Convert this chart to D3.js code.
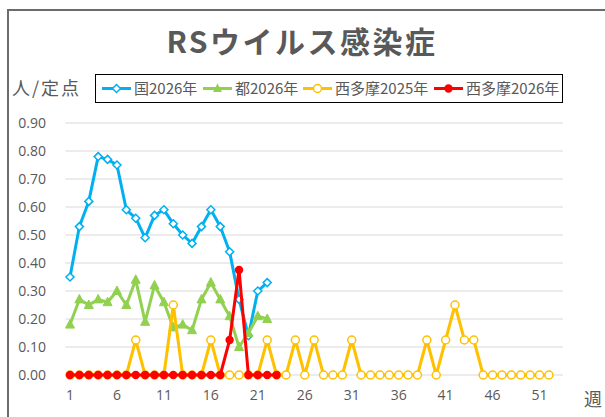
<!DOCTYPE html>
<html><head><meta charset="utf-8">
<script src="https://cdn.jsdelivr.net/npm/d3@7"></script>
<style>body{margin:0;background:#fff;} svg{display:block;} text{font-family:"Noto Sans CJK JP","Noto Sans",sans-serif;}</style>
</head><body>
<script>
const weeks = d3.range(1, 54);
const tickWeeks = [1, 6, 11, 16, 21, 26, 31, 36, 41, 46, 51];
const yTicks = [0, 0.1, 0.2, 0.3, 0.4, 0.5, 0.6, 0.7, 0.8, 0.9];
const national2026 = [0.35,0.53,0.62,0.78,0.77,0.75,0.59,0.56,0.49,0.57,0.59,0.54,0.50,0.47,0.53,0.59,0.53,0.44,0.27,0.14,0.30,0.33];
const tokyo2026 = [0.18,0.27,0.25,0.27,0.26,0.30,0.25,0.34,0.19,0.32,0.26,0.17,0.18,0.16,0.27,0.33,0.27,0.21,0.10,0.15,0.21,0.20];
const nishitama2025 = [0,0,0,0,0,0,0,0.125,0,0,0,0.25,0,0,0,0.125,0,0,0,0,0,0.125,0,0,0.125,0,0.125,0,0,0,0.125,0,0,0,0,0,0,0,0.125,0,0.125,0.25,0.125,0.125,0,0,0,0,0,0,0,0];
const nishitama2026 = [0,0,0,0,0,0,0,0,0,0,0,0,0,0,0,0,0,0.125,0.375,0,0,0,0];
const seriesNames = ["国2026年","都2026年","西多摩2025年","西多摩2026年"];
const colors = ["#00B0F0","#92D050","#FFC000","#FF0000"];

const W = 605, H = 417;
const svg = d3.select("body").append("svg").attr("width", W).attr("height", H);

// outer border
svg.append("rect").attr("x", 8).attr("y", 10).attr("width", 620).attr("height", 420)
  .attr("fill", "none").attr("stroke", "#6b6b6b").attr("stroke-width", 2);

const x = d3.scaleBand().domain(weeks).range([65.3, 563]);
const xc = w => x(w) + x.bandwidth() / 2;
const y = d3.scaleLinear().domain([0, 0.9]).range([375, 123]);

// gridlines
svg.append("g").selectAll("line").data(yTicks).join("line")
  .attr("x1", 65.3).attr("x2", 563).attr("y1", d => y(d)).attr("y2", d => y(d))
  .attr("stroke", "#d9d9d9").attr("stroke-width", 1);

// y axis
const yAxis = svg.append("g").attr("transform", "translate(60,0)")
  .call(d3.axisLeft(y).tickValues(yTicks).tickFormat(d3.format(".2f")).tickSize(0).tickPadding(0));
yAxis.select(".domain").remove();
yAxis.selectAll("text").attr("font-size", 14).attr("fill", "#595959").attr("x", -14)
  .style("font-family", "'Open Sans','Noto Sans',sans-serif");

// x axis
const xAxis = svg.append("g").attr("transform", "translate(0,389)")
  .call(d3.axisBottom(x).tickValues(tickWeeks).tickSize(0).tickPadding(0));
xAxis.select(".domain").remove();
xAxis.selectAll("text").attr("font-size", 14).attr("fill", "#595959").attr("dy", "0.75em")
  .style("font-family", "'Open Sans','Noto Sans',sans-serif");

// title
svg.append("text").attr("x", 302).attr("y", 53).attr("text-anchor", "middle")
  .attr("font-size", 30).attr("font-weight", "bold").attr("letter-spacing", 2.5).attr("fill", "#595959").text("RSウイルス感染症");
svg.append("text").attr("x", 12).attr("y", 95).attr("font-size", 18).attr("letter-spacing", 2).attr("fill", "#595959").text("人/定点");
svg.append("text").attr("x", 584).attr("y", 406).attr("font-size", 18).attr("fill", "#595959").text("週");

const line = d3.line().x((d, i) => xc(i + 1)).y(d => y(d));
const allData = [national2026, tokyo2026, nishitama2025, nishitama2026];

allData.forEach((data, si) => {
  const g = svg.append("g");
  g.append("path").datum(data).attr("d", line).attr("fill", "none")
    .attr("stroke", colors[si]).attr("stroke-width", 3).attr("stroke-linejoin", "round");
  const pts = g.selectAll(".m").data(data).join("g")
    .attr("transform", (d, i) => `translate(${xc(i + 1)},${y(d)})`);
  if (si === 0) {
    pts.append("path").attr("d", "M0,-4L4,0L0,4L-4,0Z").attr("fill", "#fff").attr("stroke", colors[0]).attr("stroke-width", 1.5);
  } else if (si === 1) {
    pts.append("path").attr("d", "M0,-5L4.5,3.5L-4.5,3.5Z").attr("fill", colors[1]).attr("stroke", colors[1]).attr("stroke-width", 1);
  } else if (si === 2) {
    pts.append("circle").attr("r", 4).attr("fill", "#fff").attr("stroke", colors[2]).attr("stroke-width", 1.5);
  } else {
    pts.append("circle").attr("r", 4.2).attr("fill", colors[3]);
  }
});

// legend
const lg = svg.append("g");
lg.append("rect").attr("x", 95.5).attr("y", 74.5).attr("width", 467).attr("height", 28)
  .attr("fill", "#fff").attr("stroke", "#000").attr("stroke-width", 1);
const legX = [102, 203, 303, 434];
seriesNames.forEach((n, i) => {
  const g = lg.append("g").attr("transform", `translate(${legX[i]},88.5)`);
  g.append("line").attr("x1", 0).attr("x2", 29).attr("stroke", colors[i]).attr("stroke-width", 3);
  if (i === 0) g.append("path").attr("d", "M14.5,-4L18.5,0L14.5,4L10.5,0Z").attr("fill", "#fff").attr("stroke", colors[0]).attr("stroke-width", 1.5);
  else if (i === 1) g.append("path").attr("d", "M14.5,-5L19,3.5L10,3.5Z").attr("fill", colors[1]);
  else if (i === 2) g.append("circle").attr("cx", 14.5).attr("r", 4).attr("fill", "#fff").attr("stroke", colors[2]).attr("stroke-width", 1.5);
  else g.append("circle").attr("cx", 14.5).attr("r", 4.2).attr("fill", colors[3]);
  g.append("text").attr("x", 32).attr("y", 0).attr("dy", "0.35em").attr("font-size", 15).attr("fill", "#595959").text(n);
});
</script>
</body></html>
